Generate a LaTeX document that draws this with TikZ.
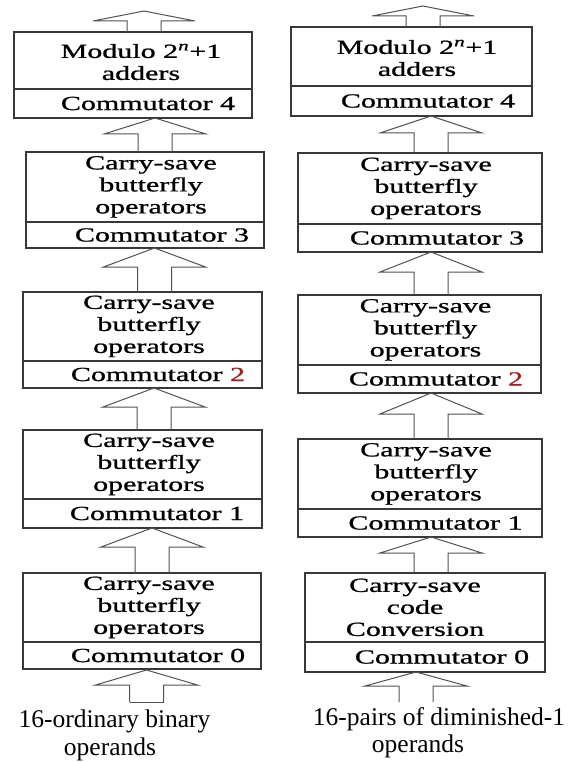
\documentclass[tikz,border=0pt]{standalone}
\usepackage{fontspec}
\setmainfont{Liberation Serif}
\newfontfamily\boxfont[FakeBold=0.8]{Liberation Serif}
\usepackage{graphicx}
\usepackage{xcolor}
\usetikzlibrary{calc,positioning}

\definecolor{digitred}{rgb}{0.62,0.12,0.12}

\tikzset{
  stagebox/.style={draw=black!78, line width=1.3pt, rectangle, anchor=north west, outer sep=0pt, inner sep=0pt},
  stagetext/.style={font=\boxfont\fontsize{20}{22}\selectfont, inner sep=0pt},
  blockarrow/.style={draw=black!68, line width=1pt},
  inputtext/.style={font=\fontsize{25.5}{28}\selectfont, anchor=base, inner sep=0pt}
}

\begin{document}
\begin{tikzpicture}[x=1pt, y=-1pt]
\useasboundingbox (0,0) rectangle (583,762);

% stages: name/left/top/divider/bottom/right
\foreach \nm/\xl/\yt/\yd/\yb/\xr in {L1/14/32/89/118/252, L2/26/152/222/248/264, L3/23/292/361/388/262, L4/23/430/499/528/262, L5/23/573/642/669/261,
                                  R1/291/27/86/116/532, R2/298/153/224/252/542, R3/298/295/365/393/541, R4/298/439/509/537/542, R5/305/573/642/672/545}{
  \node[stagebox, minimum width={(\xr-\xl)*1pt}, minimum height={(\yd-\yt)*1pt}] (\nm) at (\xl,\yt) {};
  \node[stagebox, minimum width={(\xr-\xl)*1pt}, minimum height={(\yb-\yd)*1pt}] (\nm-c) at (\xl,\yd) {};
}

% operator names (set wide)
\foreach \nm/\dx/\dy/\txt in {L1/8/4/{Modulo 2\textsuperscript{\itshape n}+1\\adders}, R1/5.5/4/{Modulo 2\textsuperscript{\itshape n}+1\\adders},
                          L2/6/0/{Carry-save\\butterfly\\operators}, L3/6.5/0/{Carry-save\\butterfly\\operators}, L4/6.5/0/{Carry-save\\butterfly\\operators},
                          L5/7/0/{Carry-save\\butterfly\\operators}, R2/6/0/{Carry-save\\butterfly\\operators}, R3/6/0/{Carry-save\\butterfly\\operators},
                          R4/6/0/{Carry-save\\butterfly\\operators}, R5/-10/2/{Carry-save\\code\\Conversion}}
  \node[stagetext] (\nm-t) at ($(\nm.center)+(\dx,\dy)$) {\scalebox{1.5}[1]{\begin{tabular}{@{}c@{}}\txt\end{tabular}}};

% commutators
\foreach \nm/\dx/\k in {L1/15/4, L2/17/3, L3/15.5/{\textcolor{digitred}{2}}, L4/14.5/1, L5/16/0,
                        R1/16.5/4, R2/17/3, R3/16.5/{\textcolor{digitred}{2}}, R4/15.5/1, R5/17/0}
  \node[stagetext] (\nm-ct) at ($(\nm-c.center)+(\dx,0)$) {\scalebox{1.5}[1]{Commutator \k}};

% tips and shaft feet of the wide arrows
\coordinate (a0L) at ($(L1.north)+(11,-21)$);   \coordinate (b0L) at ($(L1.north)+(11,0)$);
\coordinate (a0R) at ($(R1.north)+(11.5,-21)$); \coordinate (b0R) at ($(R1.north)+(11.5,0)$);
\foreach \up/\low/\dx/\s in {L1/L2/22/1L, L2/L3/9.5/2L, L3/L4/11.5/3L, L4/L5/9.5/4L,
                             R1/R2/19.5/1R, R2/R3/11/2R, R3/R4/11.5/3R, R4/R5/11/4R}{
  \coordinate (a\s) at ($(\up-c.south)+(\dx,0)$);
  \coordinate (b\s) at (a\s |- \low.north);
}
\coordinate (a5L) at ($(L5-c.south)+(4.5,1)$); \coordinate (b5L) at ($(a5L)+(0,32)$);
\coordinate (a5R) at ($(R5-c.south)+(-9,0)$);  \coordinate (b5R) at ($(a5R)+(0,30)$);

\foreach \s/\hh in {0L/10, 1L/16, 2L/19, 3L/19, 4L/19, 5L/15, 0R/10, 1R/17, 2R/20, 3R/21, 4R/16, 5R/14}
  \draw[blockarrow] ($(b\s)+(17,0)$) -- ($(a\s)+(17,\hh)$) -- ($(a\s)+(51,\hh)$) -- (a\s)
                    -- ($(a\s)+(-51,\hh)$) -- ($(a\s)+(-17,\hh)$) -- ($(b\s)+(-17,0)$);
\draw[blockarrow] ($(b5L)+(-17,0)$) -- ($(b5L)+(17,0)$);

% inputs
\node[inputtext] (inL) at (114.5,727) {16-ordinary binary};
\node[inputtext] (inLb) at (110,755) {operands};
\node[inputtext] (inR) at (439,725) {16-pairs of diminished-1};
\node[inputtext] (inRb) at (418,752) {operands};
\end{tikzpicture}
\end{document}
